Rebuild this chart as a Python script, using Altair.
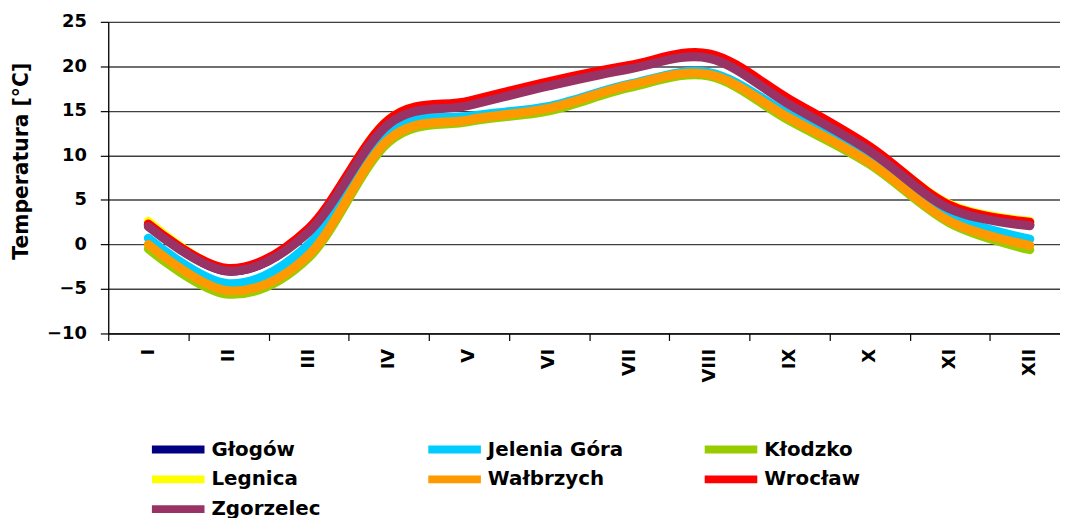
import altair as alt
import pandas as pd

months = ["I", "II", "III", "IV", "V", "VI", "VII", "VIII", "IX", "X", "XI", "XII"]
cities = ["Głogów", "Jelenia Góra", "Kłodzko", "Legnica", "Wałbrzych", "Wrocław", "Zgorzelec"]
colors = ["#000080", "#00CCFF", "#99CC00", "#FFFF00", "#FF9900", "#FF0000", "#993366"]

glogow = [2.2, -3.0, 1.5, 13.8, 15.8, 18.0, 19.9, 21.1, 16.0, 10.7, 4.2, 2.2]
jelenia_gora = [0.7, -4.4, 0.0, 12.6, 14.4, 15.5, 18.0, 19.3, 14.6, 9.8, 3.3, 0.6]
klodzko = [-0.5, -5.6, -1.5, 11.5, 13.8, 15.0, 17.6, 18.9, 13.9, 9.0, 2.4, -0.6]
legnica = [2.6, -2.8, 1.7, 14.0, 16.0, 18.2, 20.0, 21.2, 16.2, 10.9, 4.5, 2.6]
walbrzych = [0.0, -5.2, -1.2, 11.8, 14.0, 15.3, 17.9, 19.1, 14.2, 9.2, 2.6, -0.1]
wroclaw = [2.3, -2.7, 1.8, 14.0, 16.1, 18.3, 20.1, 21.4, 16.3, 11.0, 4.4, 2.5]
zgorzelec = [2.0, -3.0, 1.4, 13.5, 15.6, 17.8, 19.7, 20.9, 15.7, 10.5, 4.0, 2.1]

series = [glogow, jelenia_gora, klodzko, legnica, walbrzych, wroclaw, zgorzelec]

rows = []
for c_idx, (city, vals) in enumerate(zip(cities, series)):
    for m_idx, v in enumerate(vals):
        rows.append({"city": city, "m": m_idx, "v": v, "ord": c_idx})
df = pd.DataFrame(rows)

FONT = "DejaVu Sans"
STEP = 80.75
PLOT_W = 959
PLOT_H = 314

label_expr = "[" + ",".join("'" + m + "'" for m in months) + "][datum.value]"

chart = alt.Chart(df).mark_line(
    strokeWidth=9, interpolate="cardinal", strokeCap="round", strokeJoin="round"
).encode(
    x=alt.X(
        "m:Q",
        scale=alt.Scale(domain=[-0.5, -0.5 + PLOT_W / STEP], nice=False, zero=False),
        axis=alt.Axis(
            values=list(range(12)),
            labelExpr=label_expr,
            tickOffset=-STEP / 2,
            labelOffset=STEP / 2,
            grid=False,
            title=None,
            domainColor="#000000",
            domainWidth=1.3,
            tickColor="#000000",
            tickWidth=1.2,
            tickSize=7,
            labelPadding=8,
            labelAngle=270,
            labelFont=FONT,
            labelFontSize=18,
            labelFontWeight="bold",
            labelColor="#000000",
        ),
    ),
    y=alt.Y(
        "v:Q",
        scale=alt.Scale(domain=[-10, 25], nice=False, zero=False),
        axis=alt.Axis(
            values=[-10, -5, 0, 5, 10, 15, 20, 25],
            grid=True,
            gridColor="#404040",
            gridWidth=1.4,
            domainColor="#000000",
            domainWidth=1.3,
            tickColor="#000000",
            tickWidth=1.2,
            tickSize=8,
            labelPadding=14,
            labelFont=FONT,
            labelFontSize=18,
            labelFontWeight="bold",
            labelColor="#000000",
            title="Temperatura [°C]",
            titleFont=FONT,
            titleFontSize=20.5,
            titleFontWeight="bold",
            titleColor="#000000",
            titleAngle=270,
            titleAlign="center",
            titleBaseline="top",
            titleX=-97,
            titleY=140,
        ),
    ),
    color=alt.Color(
        "city:N",
        scale=alt.Scale(domain=cities, range=colors),
        legend=alt.Legend(
            title=None,
            orient="none",
            direction="horizontal",
            legendX=56.5,
            legendY=417,
            columns=3,
            gridAlign="all",
            columnPadding=65.5,
            rowPadding=-9.5,
            padding=0,
            symbolType="M-2.65,0H2.65",
            symbolSize=400,
            symbolStrokeWidth=8,
            labelOffset=19.5,
            labelFont=FONT,
            labelFontSize=20,
            labelFontWeight="bold",
            labelColor="#000000",
            labelLimit=400,
        ),
    ),
    order=alt.Order("m:Q"),
).properties(
    width=PLOT_W,
    height=PLOT_H,
    autosize=alt.AutoSizeParams(type="none"),
    padding={"left": 101, "top": 12, "right": 0, "bottom": 184},
).configure_view(stroke=None).configure(background="white")

chart.save("out.html", embed_options={"renderer": "svg", "actions": False})
